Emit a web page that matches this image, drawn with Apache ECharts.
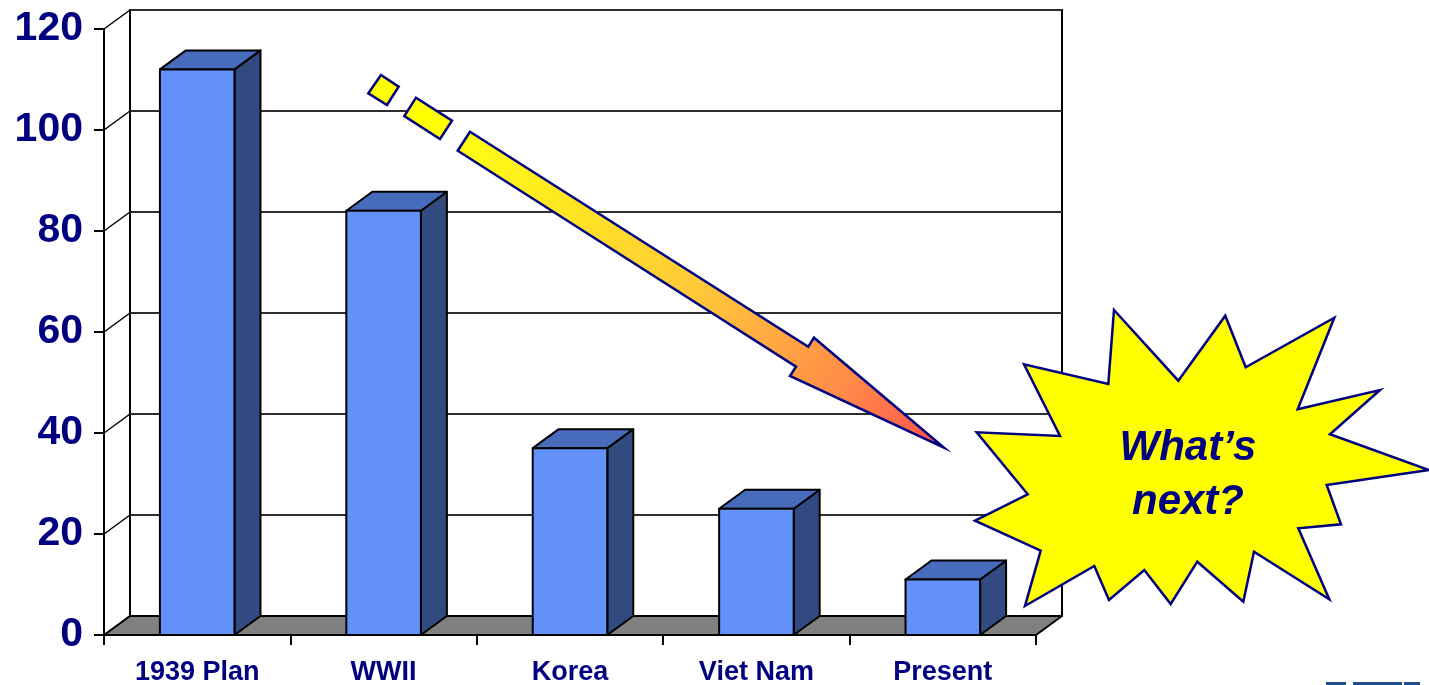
<!DOCTYPE html>
<html>
<head>
<meta charset="utf-8">
<title>What's next?</title>
<script src="https://cdn.jsdelivr.net/npm/echarts@6/dist/echarts.min.js"></script>
<style>
  html, body { margin: 0; padding: 0; background: #fff; }
  #main { width: 1429px; height: 685px; }
</style>
</head>
<body>
<div id="main"></div>
<script>
const categories = ['1939 Plan', 'WWII', 'Korea', 'Viet Nam', 'Present']
const values = [112, 84, 37, 25, 11]
const yTicks = [0, 20, 40, 60, 80, 100, 120]
const yMin = 0
const yMax = 120
const yStep = 20

const depthX = 26
const depthY = -19
const navy = '#000080'
const font = '"Liberation Sans", Arial, sans-serif'
const edge = { stroke: '#000', lineWidth: 2, lineJoin: 'round' }

const chart = echarts.init(document.getElementById('main'))

function renderFloor(params, api) {
  const p = api.coord([0, 0])
  const w = api.size([1, 0])[0]
  const left = p[0] - w / 2
  const right = left + w * categories.length
  return {
    type: 'polygon',
    shape: { points: [[left, p[1]], [right, p[1]], [right + depthX, p[1] + depthY], [left + depthX, p[1] + depthY]] },
    style: Object.assign({ fill: '#808080' }, edge)
  }
}

function renderWall(params, api) {
  const p = api.coord([0, api.value(1)])
  const x = p[0] - api.size([1, 0])[0] / 2
  return {
    type: 'line',
    shape: { x1: x, y1: p[1], x2: x + depthX, y2: p[1] + depthY },
    style: { stroke: '#000', lineWidth: 1.5 }
  }
}

function renderBar(params, api) {
  const top = api.coord([api.value(0), api.value(1)])
  const base = api.coord([api.value(0), 0])
  const bw = api.size([1, 0])[0] * 0.4
  const x1 = top[0] - bw / 2
  const x2 = top[0] + bw / 2
  return {
    type: 'group',
    children: [{
      type: 'polygon',
      shape: { points: [[x2, top[1]], [x2 + depthX, top[1] + depthY], [x2 + depthX, base[1] + depthY], [x2, base[1]]] },
      style: Object.assign({ fill: '#314a80' }, edge)
    }, {
      type: 'polygon',
      shape: { points: [[x1, top[1]], [x1 + depthX, top[1] + depthY], [x2 + depthX, top[1] + depthY], [x2, top[1]]] },
      style: Object.assign({ fill: '#486cbc' }, edge)
    }, {
      type: 'polygon',
      shape: { points: [[x1, top[1]], [x2, top[1]], [x2, base[1]], [x1, base[1]]] },
      style: Object.assign({ fill: '#6391fa' }, edge)
    }]
  }
}

const arrowFill = {
  type: 'linear', x: 0, y: 0, x2: 1, y2: 1,
  colorStops: [
    { offset: 0, color: '#ffff10' },
    { offset: 0.5, color: '#ffc83a' },
    { offset: 0.8, color: '#ff8a48' },
    { offset: 1, color: '#ff4e4e' }
  ]
}
const outline = { stroke: navy, lineWidth: 2.5, lineJoin: 'miter' }

const option = {
  animation: false,
  grid: [
    { left: 104, top: 29, width: 932, height: 606, outerBoundsMode: 'none' },
    { left: 130, top: 10, width: 932, height: 606, outerBoundsMode: 'none', show: true, borderColor: '#000', borderWidth: 2 }
  ],
  xAxis: [{
    gridIndex: 0,
    type: 'category',
    data: categories,
    axisLine: { show: true, lineStyle: { color: '#000', width: 2 } },
    axisTick: { show: true, length: 10, lineStyle: { color: '#000', width: 2 } },
    axisLabel: { color: navy, fontWeight: 'bold', fontSize: 27, fontFamily: font, margin: 24 },
    splitLine: { show: false }
  }, {
    gridIndex: 1,
    type: 'category',
    data: categories,
    show: false
  }],
  yAxis: [{
    gridIndex: 0,
    type: 'value',
    min: yMin,
    max: yMax,
    interval: yStep,
    axisLine: { show: true, lineStyle: { color: '#000', width: 2 } },
    axisTick: { show: true, length: 10, lineStyle: { color: '#000', width: 2 } },
    axisLabel: { color: navy, fontWeight: 'bold', fontSize: 41, fontFamily: font, margin: 21 },
    splitLine: { show: false }
  }, {
    gridIndex: 1,
    type: 'value',
    min: yMin,
    max: yMax,
    interval: yStep,
    axisLine: { show: false },
    axisTick: { show: false },
    axisLabel: { show: false },
    splitLine: { show: true, lineStyle: { color: '#2e2e2e', width: 2 } }
  }],
  series: [{
    type: 'custom',
    name: 'floor',
    xAxisIndex: 0,
    yAxisIndex: 0,
    z: 1,
    silent: true,
    renderItem: renderFloor,
    data: [[0, 0]]
  }, {
    type: 'custom',
    name: 'wall',
    xAxisIndex: 0,
    yAxisIndex: 0,
    z: 1,
    silent: true,
    renderItem: renderWall,
    data: yTicks.map(v => [0, v])
  }, {
    type: 'custom',
    name: 'bars',
    xAxisIndex: 0,
    yAxisIndex: 0,
    z: 3,
    renderItem: renderBar,
    encode: { x: 0, y: 1 },
    data: values.map((v, i) => [i, v])
  }],
  graphic: [{
    type: 'polygon',
    z: 10,
    shape: { points: [[381, 75], [398.7, 86.7], [387, 105], [368.3, 93.3]] },
    style: Object.assign({ fill: '#ffff00' }, outline)
  }, {
    type: 'polygon',
    z: 10,
    shape: { points: [[416, 97.7], [452, 120.7], [440, 139], [404.3, 116]] },
    style: Object.assign({ fill: '#ffff00' }, outline)
  }, {
    type: 'polygon',
    z: 10,
    shape: { points: [[470, 131.7], [808.3, 346.7], [814, 337.7], [944, 447.7], [790, 376], [796, 366.7], [457.7, 150.7]] },
    style: Object.assign({ fill: arrowFill }, outline)
  }, {
    type: 'polygon',
    z: 10,
    shape: {
      points: [
        [1114, 310], [1178.3, 380.7], [1225.3, 315.7], [1245.7, 367.3], [1334.3, 317.7], [1297.7, 409.3],
        [1380, 390], [1330, 434.3], [1429, 470], [1326.7, 485], [1341, 524.3], [1298.3, 528.3],
        [1329.3, 599.3], [1254, 551.7], [1243.3, 601.7], [1197.3, 561.7], [1170.7, 604], [1144.3, 570],
        [1109, 600], [1094.3, 566], [1025, 606], [1040.7, 550.7], [975, 520.7], [1027.7, 494.3],
        [976.7, 432.3], [1060, 436], [1024, 364.3], [1108.3, 384]
      ]
    },
    style: Object.assign({ fill: '#ffff00' }, outline)
  }, {
    type: 'text',
    z: 11,
    x: 1188,
    y: 475,
    style: {
      text: 'What\u2019s\nnext?',
      align: 'center',
      verticalAlign: 'middle',
      fill: navy,
      fontStyle: 'italic',
      fontWeight: 'bold',
      fontSize: 42,
      fontFamily: font,
      lineHeight: 54
    }
  }, {
    type: 'rect',
    shape: { x: 1326, y: 682, width: 20, height: 3 },
    style: { fill: '#1f4e8c' }
  }, {
    type: 'rect',
    shape: { x: 1353, y: 682, width: 49, height: 3 },
    style: { fill: '#1f4e8c' }
  }, {
    type: 'rect',
    shape: { x: 1404, y: 682, width: 16, height: 3 },
    style: { fill: '#1f4e8c' }
  }]
}

chart.setOption(option)
</script>
</body>
</html>
